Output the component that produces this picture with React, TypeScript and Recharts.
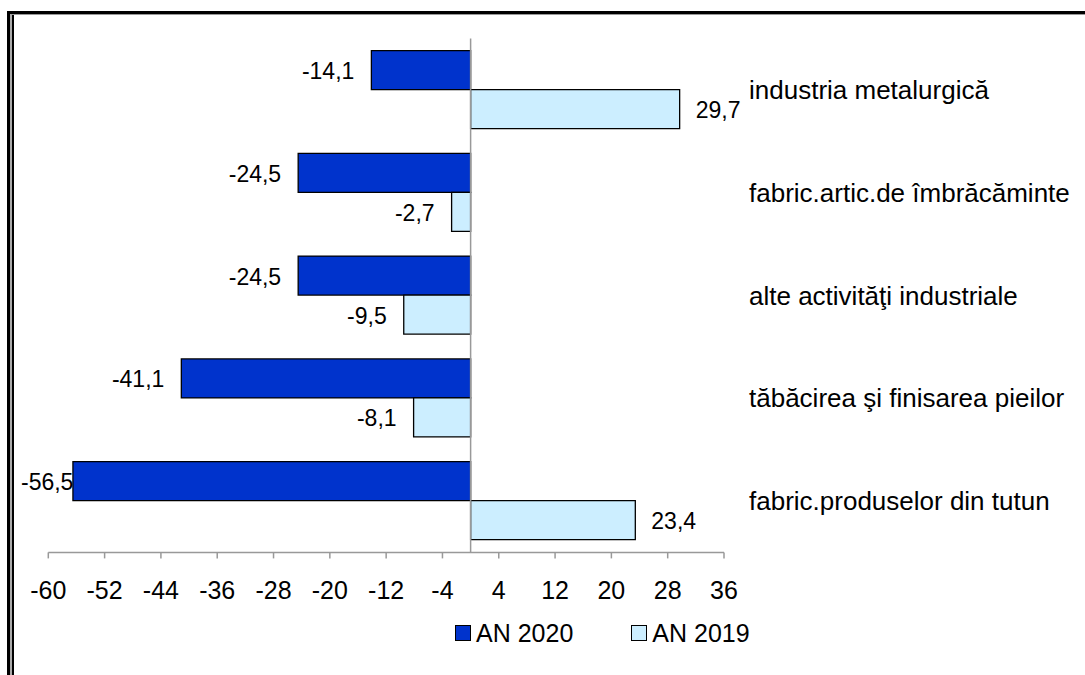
import React from "react";
import { BarChart, Bar, XAxis, YAxis, ReferenceLine, LabelList } from "recharts";

const categories = [
  "industria metalurgică",
  "fabric.artic.de îmbrăcăminte",
  "alte activităţi industriale",
  "tăbăcirea şi finisarea pieilor",
  "fabric.produselor din tutun",
];
const an2020 = [-14.1, -24.5, -24.5, -41.1, -56.5];
const an2019 = [29.7, -2.7, -9.5, -8.1, 23.4];
const xTicks = [-60, -52, -44, -36, -28, -20, -12, -4, 4, 12, 20, 28, 36];

const FONT = "'Liberation Sans', Arial, sans-serif";
const DARK = "#0033cc";
const LIGHT = "#cceeff";
const GRAY = "#999999";

const data = categories.map((name, i) => ({
  name,
  an2020: an2020[i],
  an2019: an2019[i],
}));

const fmt = (v: number) => v.toFixed(1).replace(".", ",");

// rough Arial width of a number label
const textWidth = (s: string, fs: number) =>
  s.split("").reduce((w, c) => w + (c === "-" ? 0.333 : c === "," ? 0.278 : 0.556), 0) * fs;

const ValueLabel = (props: any) => {
  const { x, y, width, height, value } = props;
  const v = Number(value);
  const text = fmt(v);
  const fs = 23;
  const left = Math.min(x, x + width);
  const right = Math.max(x, x + width);
  const cy = y + height / 2 + 1;
  if (v < 0) {
    const end = Math.max(left - 17, 21 + textWidth(text, fs));
    return (
      <text x={end} y={cy} dy="0.35em" textAnchor="end" fontSize={fs} fontFamily={FONT} fill="#000">
        {text}
      </text>
    );
  }
  return (
    <text x={right + 16} y={cy} dy="0.35em" textAnchor="start" fontSize={fs} fontFamily={FONT} fill="#000">
      {text}
    </text>
  );
};

const CategoryTick = (props: any) => {
  const { x, y, payload } = props;
  return (
    <text x={x} y={y} dy="0.35em" textAnchor="start" fontSize={26} fontFamily={FONT} fill="#000">
      {payload.value}
    </text>
  );
};

const LegendBox = ({ color, label, style }: { color: string; label: string; style?: React.CSSProperties }) => (
  <div style={{ display: "flex", alignItems: "center", ...style }}>
    <div
      style={{
        width: 14,
        height: 14,
        background: color,
        border: "1.5px solid #000",
        marginRight: 5,
      }}
    />
    <span>{label}</span>
  </div>
);

export default function App() {
  return (
    <div
      style={{
        position: "fixed",
        left: 0,
        top: 0,
        width: 1085,
        height: 675,
        overflow: "hidden",
        background: "#fff",
      }}
    >
      {/* frame */}
      <div
        style={{
          position: "absolute",
          left: 7,
          top: 11,
          width: 2000,
          height: 2000,
          borderTop: "3px solid #000",
          borderLeft: "3px solid #000",
        }}
      >
        <div
          style={{
            position: "absolute",
            left: 0,
            top: 0,
            width: 2000,
            height: 2000,
            borderTop: "1px solid " + GRAY,
            borderLeft: "2px solid #aaa",
          }}
        >
          <div
            style={{
              position: "absolute",
              left: 0,
              top: 0,
              width: 2000,
              height: 2000,
              borderLeft: "2px solid #000",
            }}
          />
        </div>
      </div>

      <div style={{ position: "absolute", left: 0, top: 0 }}>
        <BarChart
          width={1085}
          height={675}
          data={data}
          layout="vertical"
          margin={{ top: 38.6, right: 0, bottom: 62.6, left: 48.3 }}
          barGap={0}
        >
          <XAxis
            type="number"
            domain={[-60, 36]}
            ticks={xTicks}
            interval={0}
            height={60}
            tick={{ fontSize: 25, fill: "#000", fontFamily: FONT }}
            axisLine={{ stroke: GRAY, strokeWidth: 1.5 }}
            tickLine={{ stroke: GRAY, strokeWidth: 1.5 }}
            tickSize={6}
            tickMargin={23}
          />
          <YAxis
            type="category"
            dataKey="name"
            orientation="right"
            width={361}
            axisLine={false}
            tickLine={false}
            tickSize={0}
            tickMargin={25}
            tick={<CategoryTick />}
            interval={0}
          />
          <ReferenceLine x={0} stroke={GRAY} strokeWidth={1.5} />
          <Bar dataKey="an2020" name="AN 2020" fill={DARK} stroke="#000" strokeWidth={1.3} barSize={39} isAnimationActive={false}>
            <LabelList dataKey="an2020" content={<ValueLabel />} />
          </Bar>
          <Bar dataKey="an2019" name="AN 2019" fill={LIGHT} stroke="#000" strokeWidth={1.3} barSize={39} isAnimationActive={false}>
            <LabelList dataKey="an2019" content={<ValueLabel />} />
          </Bar>
        </BarChart>
      </div>

      <div
        style={{
          position: "absolute",
          left: 455,
          top: 618,
          height: 30,
          display: "flex",
          alignItems: "center",
          fontFamily: FONT,
          fontSize: 25,
          color: "#000",
        }}
      >
        <LegendBox color={DARK} label="AN 2020" />
        <LegendBox color={LIGHT} label="AN 2019" style={{ marginLeft: 58 }} />
      </div>
    </div>
  );
}
